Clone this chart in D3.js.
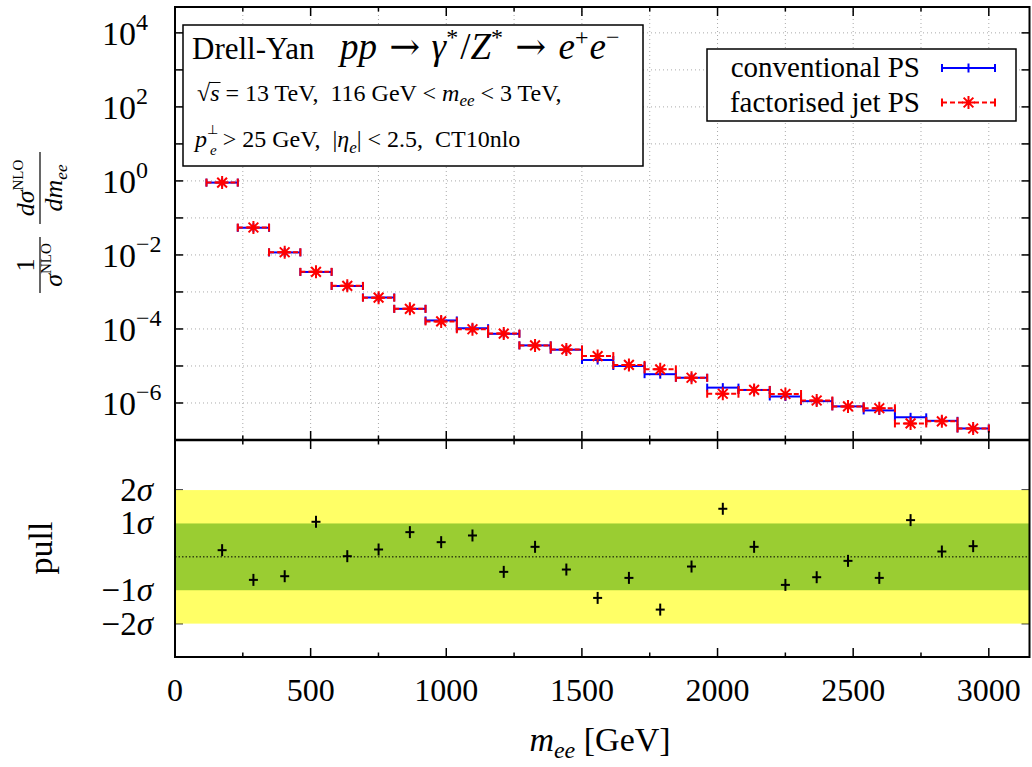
<!DOCTYPE html>
<html><head><meta charset="utf-8">
<script src="https://cdn.jsdelivr.net/npm/d3@7"></script>
<style>
body{margin:0;background:#fff}
svg{display:block}
text{font-family:"Liberation Serif","Times New Roman",serif;fill:#000}
</style>
</head><body>
<svg id="c" width="1032" height="767"></svg>
<script>
// ---------------- data ----------------
const binEdges = [116, 231.4, 346.7, 462.1, 577.4, 692.8, 808.2, 923.5, 1038.9, 1154.2,
  1269.6, 1385.0, 1500.3, 1615.7, 1731.0, 1846.4, 1961.8, 2077.1, 2192.5, 2307.8,
  2423.2, 2538.6, 2653.9, 2769.3, 2884.6, 3000];
const conventionalPS = [0.90, 0.054, 0.0117, 0.00347, 0.00145, 7.1e-4, 3.5e-4, 1.7e-4, 1.05e-4, 7.4e-5,
  3.6e-5, 2.75e-5, 1.45e-5, 1.0e-5, 6.0e-6, 4.8e-6, 2.6e-6, 2.25e-6, 1.5e-6, 1.12e-6,
  8.1e-7, 6.3e-7, 4.1e-7, 3.3e-7, 2.05e-7];
const factorisedJetPS = [0.90, 0.055, 0.0118, 0.0035, 0.00146, 7.0e-4, 3.5e-4, 1.6e-4, 9.8e-5, 7.5e-5,
  3.6e-5, 2.8e-5, 1.85e-5, 1.07e-5, 8.1e-6, 4.8e-6, 1.78e-6, 2.25e-6, 1.75e-6, 1.17e-6,
  8.1e-7, 7.2e-7, 2.8e-7, 3.2e-7, 2.05e-7];
const pulls = [0.20, -0.69, -0.58, 1.05, 0.02, 0.22, 0.74, 0.44, 0.64, -0.45,
  0.30, -0.38, -1.23, -0.63, -1.58, -0.29, 1.44, 0.30, -0.84, -0.61,
  -0.12, -0.63, 1.10, 0.16, 0.32];
const xMajorTicks = [0, 500, 1000, 1500, 2000, 2500, 3000];
const xMinorTicks = [250, 750, 1250, 1750, 2250, 2750];
const yExponentLabels = [4, 2, 0, -2, -4, -6];
const yDecades = [-7, -6, -5, -4, -3, -2, -1, 0, 1, 2, 3, 4];
const pullTickLabels = [2, 1, -1, -2];
const legendLabels = ["conventional PS", "factorised jet PS"];

// ---------------- scales ----------------
const svg = d3.select("#c");
const L = 175, R = 1029.5, T = 7, MID = 440, B = 657;
const x = d3.scaleLinear().domain([0, 3150]).range([L, R]);
const yTop = d3.scaleLog().domain([1e-7, 5e4]).range([MID, T]);
const yBot = d3.scaleLinear().domain([-3, 3.5]).range([B, MID]);

function rich(sel, xx, yy, size, parts, anchor) {
  const t = sel.append("text").attr("x", xx).attr("y", yy).attr("font-size", size)
    .attr("text-anchor", anchor || "start").style("white-space", "pre");
  let cur = 0;
  parts.forEach(p => {
    const target = p.s || 0;
    const ts = t.append("tspan").text(p.t).attr("dy", target - cur);
    cur = target;
    if (p.i) ts.attr("font-style", "italic");
    if (p.fs) ts.attr("font-size", p.fs);
    if (p.dx) ts.attr("dx", p.dx);
    if (p.ff) ts.style("font-family", p.ff);
  });
  return t;
}

// ---------------- upper panel grid ----------------
const grid = svg.append("g").attr("stroke", "#aaa").attr("stroke-width", 1).attr("stroke-dasharray", "1,3");
xMajorTicks.concat(xMinorTicks).filter(v => v > 0).forEach(v => {
  grid.append("line").attr("x1", x(v)).attr("x2", x(v)).attr("y1", T).attr("y2", MID);
});
yDecades.filter(e => e > -7).forEach(e => {
  grid.append("line").attr("x1", L).attr("x2", R).attr("y1", yTop(Math.pow(10, e))).attr("y2", yTop(Math.pow(10, e)));
});

// ---------------- series ----------------
function drawSeries(vals, color, dash, marker) {
  const g = svg.append("g").attr("stroke", color).attr("stroke-width", 2).attr("fill", "none");
  vals.forEach((v, i) => {
    const lo = binEdges[i], hi = binEdges[i + 1], yy = yTop(v);
    g.append("line").attr("x1", x(lo)).attr("x2", x(hi)).attr("y1", yy).attr("y2", yy)
      .attr("stroke-dasharray", dash);
    [lo, hi].forEach(e => g.append("line").attr("x1", x(e)).attr("x2", x(e)).attr("y1", yy - 4).attr("y2", yy + 4));
    marker(g, x((lo + hi) / 2), yy);
  });
}
function plusMarker(g, cx, cy) {
  g.append("line").attr("x1", cx).attr("x2", cx).attr("y1", cy - 4.5).attr("y2", cy + 4.5);
}
function starMarker(g, cx, cy) {
  const r = 6.5;
  g.append("path").attr("d",
    `M${cx - r},${cy}L${cx + r},${cy}M${cx},${cy - r}L${cx},${cy + r}` +
    `M${cx - r * 0.75},${cy - r * 0.75}L${cx + r * 0.75},${cy + r * 0.75}` +
    `M${cx - r * 0.75},${cy + r * 0.75}L${cx + r * 0.75},${cy - r * 0.75}`);
}
drawSeries(conventionalPS, "#0000ff", null, plusMarker);
drawSeries(factorisedJetPS, "#ff0000", "5,3", starMarker);

// ---------------- title box ----------------
svg.append("rect").attr("x", 183).attr("y", 25).attr("width", 460).attr("height", 141)
  .attr("fill", "#fff").attr("stroke", "#000").attr("stroke-width", 1.5);
const AR = "DejaVu Serif";
rich(svg, 192, 59, 31, [
  {t: "Drell-Yan  "}, {t: "pp", i: 1, fs: 37, dx: 10}, {t: " ", fs: 37, dx: 3}, {t: "→", ff: AR, fs: 37}, {t: " ", fs: 37, dx: 2},
  {t: "γ", i: 1, fs: 37}, {t: "*", s: -14, fs: 24},
  {t: "/", fs: 37, dx: 2}, {t: "Z", i: 1, fs: 37}, {t: "*", s: -14, fs: 24}, {t: " ", fs: 37, dx: 3}, {t: "→", ff: AR, fs: 37}, {t: " ", fs: 37, dx: 3},
  {t: "e", i: 1, fs: 37}, {t: "+", s: -14, fs: 24},
  {t: "e", i: 1, fs: 37, dx: 1}, {t: "−", s: -14, fs: 24}
]);
const l2 = rich(svg, 197, 101, 24, [
  {t: "√"}, {t: "s", i: 1}, {t: " = 13 TeV,  116 GeV < "}, {t: "m", i: 1}, {t: "ee", i: 1, s: 5, fs: 17},
  {t: " < 3 TeV,"}
]);
try {
  const ex = l2.node().getExtentOfChar(1);
  svg.append("line").attr("x1", ex.x - 1).attr("x2", ex.x + ex.width + 1)
    .attr("y1", 101 - 18.5).attr("y2", 101 - 18.5).attr("stroke", "#000").attr("stroke-width", 1);
} catch (e) {}
rich(svg, 195, 147, 24, [
  {t: "p", i: 1}, {t: "⊥", s: -13, fs: 13}, {t: "e", i: 1, s: 8, fs: 15, dx: -8},
  {t: " > 25 GeV,  |"}, {t: "η", i: 1}, {t: "e", i: 1, s: 6, fs: 17}, {t: "| < 2.5,  CT10nlo"}
]);

// ---------------- legend ----------------
svg.append("rect").attr("x", 707).attr("y", 49).attr("width", 309).attr("height", 72)
  .attr("fill", "#fff").attr("stroke", "#000").attr("stroke-width", 1.5);
legendLabels.forEach((lab, i) => {
  const yy = 68 + i * 34.5;
  svg.append("text").attr("x", 920).attr("y", yy + 9).attr("font-size", 29).attr("text-anchor", "end").text(lab);
  const color = i === 0 ? "#0000ff" : "#ff0000";
  const g = svg.append("g").attr("stroke", color).attr("stroke-width", 2).attr("fill", "none");
  g.append("line").attr("x1", 942).attr("x2", 995).attr("y1", yy).attr("y2", yy).attr("stroke-dasharray", i ? "5,3" : null);
  [942, 995].forEach(e => g.append("line").attr("x1", e).attr("x2", e).attr("y1", yy - 4).attr("y2", yy + 4));
  (i ? starMarker : plusMarker)(g, 968.5, yy);
});

// ---------------- upper panel frame + ticks ----------------
const ax = svg.append("g").attr("stroke", "#000").attr("stroke-width", 1.5);
yDecades.forEach(e => {
  const yy = yTop(Math.pow(10, e));
  ax.append("line").attr("x1", L).attr("x2", L + 8).attr("y1", yy).attr("y2", yy);
  ax.append("line").attr("x1", R - 8).attr("x2", R).attr("y1", yy).attr("y2", yy);
});
xMajorTicks.forEach(v => {
  ax.append("line").attr("x1", x(v)).attr("x2", x(v)).attr("y1", T).attr("y2", T + 9);
  ax.append("line").attr("x1", x(v)).attr("x2", x(v)).attr("y1", MID - 9).attr("y2", MID + 9);
  ax.append("line").attr("x1", x(v)).attr("x2", x(v)).attr("y1", B - 9).attr("y2", B);
});
xMinorTicks.forEach(v => {
  ax.append("line").attr("x1", x(v)).attr("x2", x(v)).attr("y1", T).attr("y2", T + 4.5);
  ax.append("line").attr("x1", x(v)).attr("x2", x(v)).attr("y1", MID - 4.5).attr("y2", MID + 4.5);
  ax.append("line").attr("x1", x(v)).attr("x2", x(v)).attr("y1", B - 4.5).attr("y2", B);
});

yExponentLabels.forEach(e => {
  const yy = yTop(Math.pow(10, e));
  rich(svg, 102, yy + 12, 34, [{t: "10"}, {t: e < 0 ? "−" + (-e) : String(e), s: -15, fs: 24}]);
});

// ---------------- lower panel ----------------
const lower = svg.append("g");
pullTickLabels.forEach(p => {
  lower.append("line").attr("x1", L).attr("x2", L + 8).attr("y1", yBot(p)).attr("y2", yBot(p)).attr("stroke", "#000").attr("stroke-width", 1.5);
  lower.append("line").attr("x1", R - 8).attr("x2", R).attr("y1", yBot(p)).attr("y2", yBot(p)).attr("stroke", "#000").attr("stroke-width", 1.5);
});
lower.append("rect").attr("x", L).attr("width", R - L).attr("y", yBot(2)).attr("height", yBot(-2) - yBot(2)).attr("fill", "#ffff66");
lower.append("rect").attr("x", L).attr("width", R - L).attr("y", yBot(1)).attr("height", yBot(-1) - yBot(1)).attr("fill", "#9acd32");
lower.append("line").attr("x1", L).attr("x2", R).attr("y1", yBot(0)).attr("y2", yBot(0))
  .attr("stroke", "#000").attr("stroke-width", 1).attr("stroke-dasharray", "1.5,2");
const pg = lower.append("g").attr("stroke", "#000").attr("stroke-width", 2);
pulls.forEach((p, i) => {
  const cx = x((binEdges[i] + binEdges[i + 1]) / 2), cy = yBot(p);
  pg.append("line").attr("x1", cx - 4.5).attr("x2", cx + 4.5).attr("y1", cy).attr("y2", cy);
  pg.append("line").attr("x1", cx).attr("x2", cx).attr("y1", cy - 6).attr("y2", cy + 6);
});
pullTickLabels.forEach(p => {
  rich(svg, 153, yBot(p) + 11, 33, [{t: (p < 0 ? "−" : "") + Math.abs(p)}, {t: "σ", i: 1}], "end");
});

// frames
svg.append("rect").attr("x", L).attr("y", T).attr("width", R - L).attr("height", B - T)
  .attr("fill", "none").attr("stroke", "#000").attr("stroke-width", 2);
svg.append("line").attr("x1", L).attr("x2", R).attr("y1", MID).attr("y2", MID).attr("stroke", "#000").attr("stroke-width", 2.5);

// x tick labels
xMajorTicks.forEach(v => {
  svg.append("text").attr("x", x(v)).attr("y", 701).attr("font-size", 32).attr("text-anchor", "middle").text(v);
});
// x title
rich(svg, 600, 751, 34, [{t: "m", i: 1}, {t: "ee", i: 1, s: 7, fs: 24}, {t: " [GeV]", s: 0}], "middle");

// y label (upper)
const yl = svg.append("g").attr("transform", "rotate(-90)");
function frac(cu, numParts, denParts) {
  rich(yl, cu, 34, 26, numParts, "middle");
  rich(yl, cu, 62, 26, denParts, "middle");
}
frac(-265, [{t: "1"}], [{t: "σ", i: 1}, {t: "NLO", s: -11, fs: 15}]);
frac(-188, [{t: "dσ", i: 1}, {t: "NLO", s: -11, fs: 15}], [{t: "dm", i: 1}, {t: "ee", i: 1, s: 5, fs: 17}]);
yl.append("line").attr("x1", -293).attr("x2", -237).attr("y1", 40).attr("y2", 40).attr("stroke", "#000").attr("stroke-width", 1.2);
yl.append("line").attr("x1", -224).attr("x2", -152).attr("y1", 40).attr("y2", 40).attr("stroke", "#000").attr("stroke-width", 1.2);

// pull label
svg.append("text").attr("transform", "translate(52,548) rotate(-90)").attr("font-size", 34)
  .attr("text-anchor", "middle").text("pull");
</script>
</body></html>
